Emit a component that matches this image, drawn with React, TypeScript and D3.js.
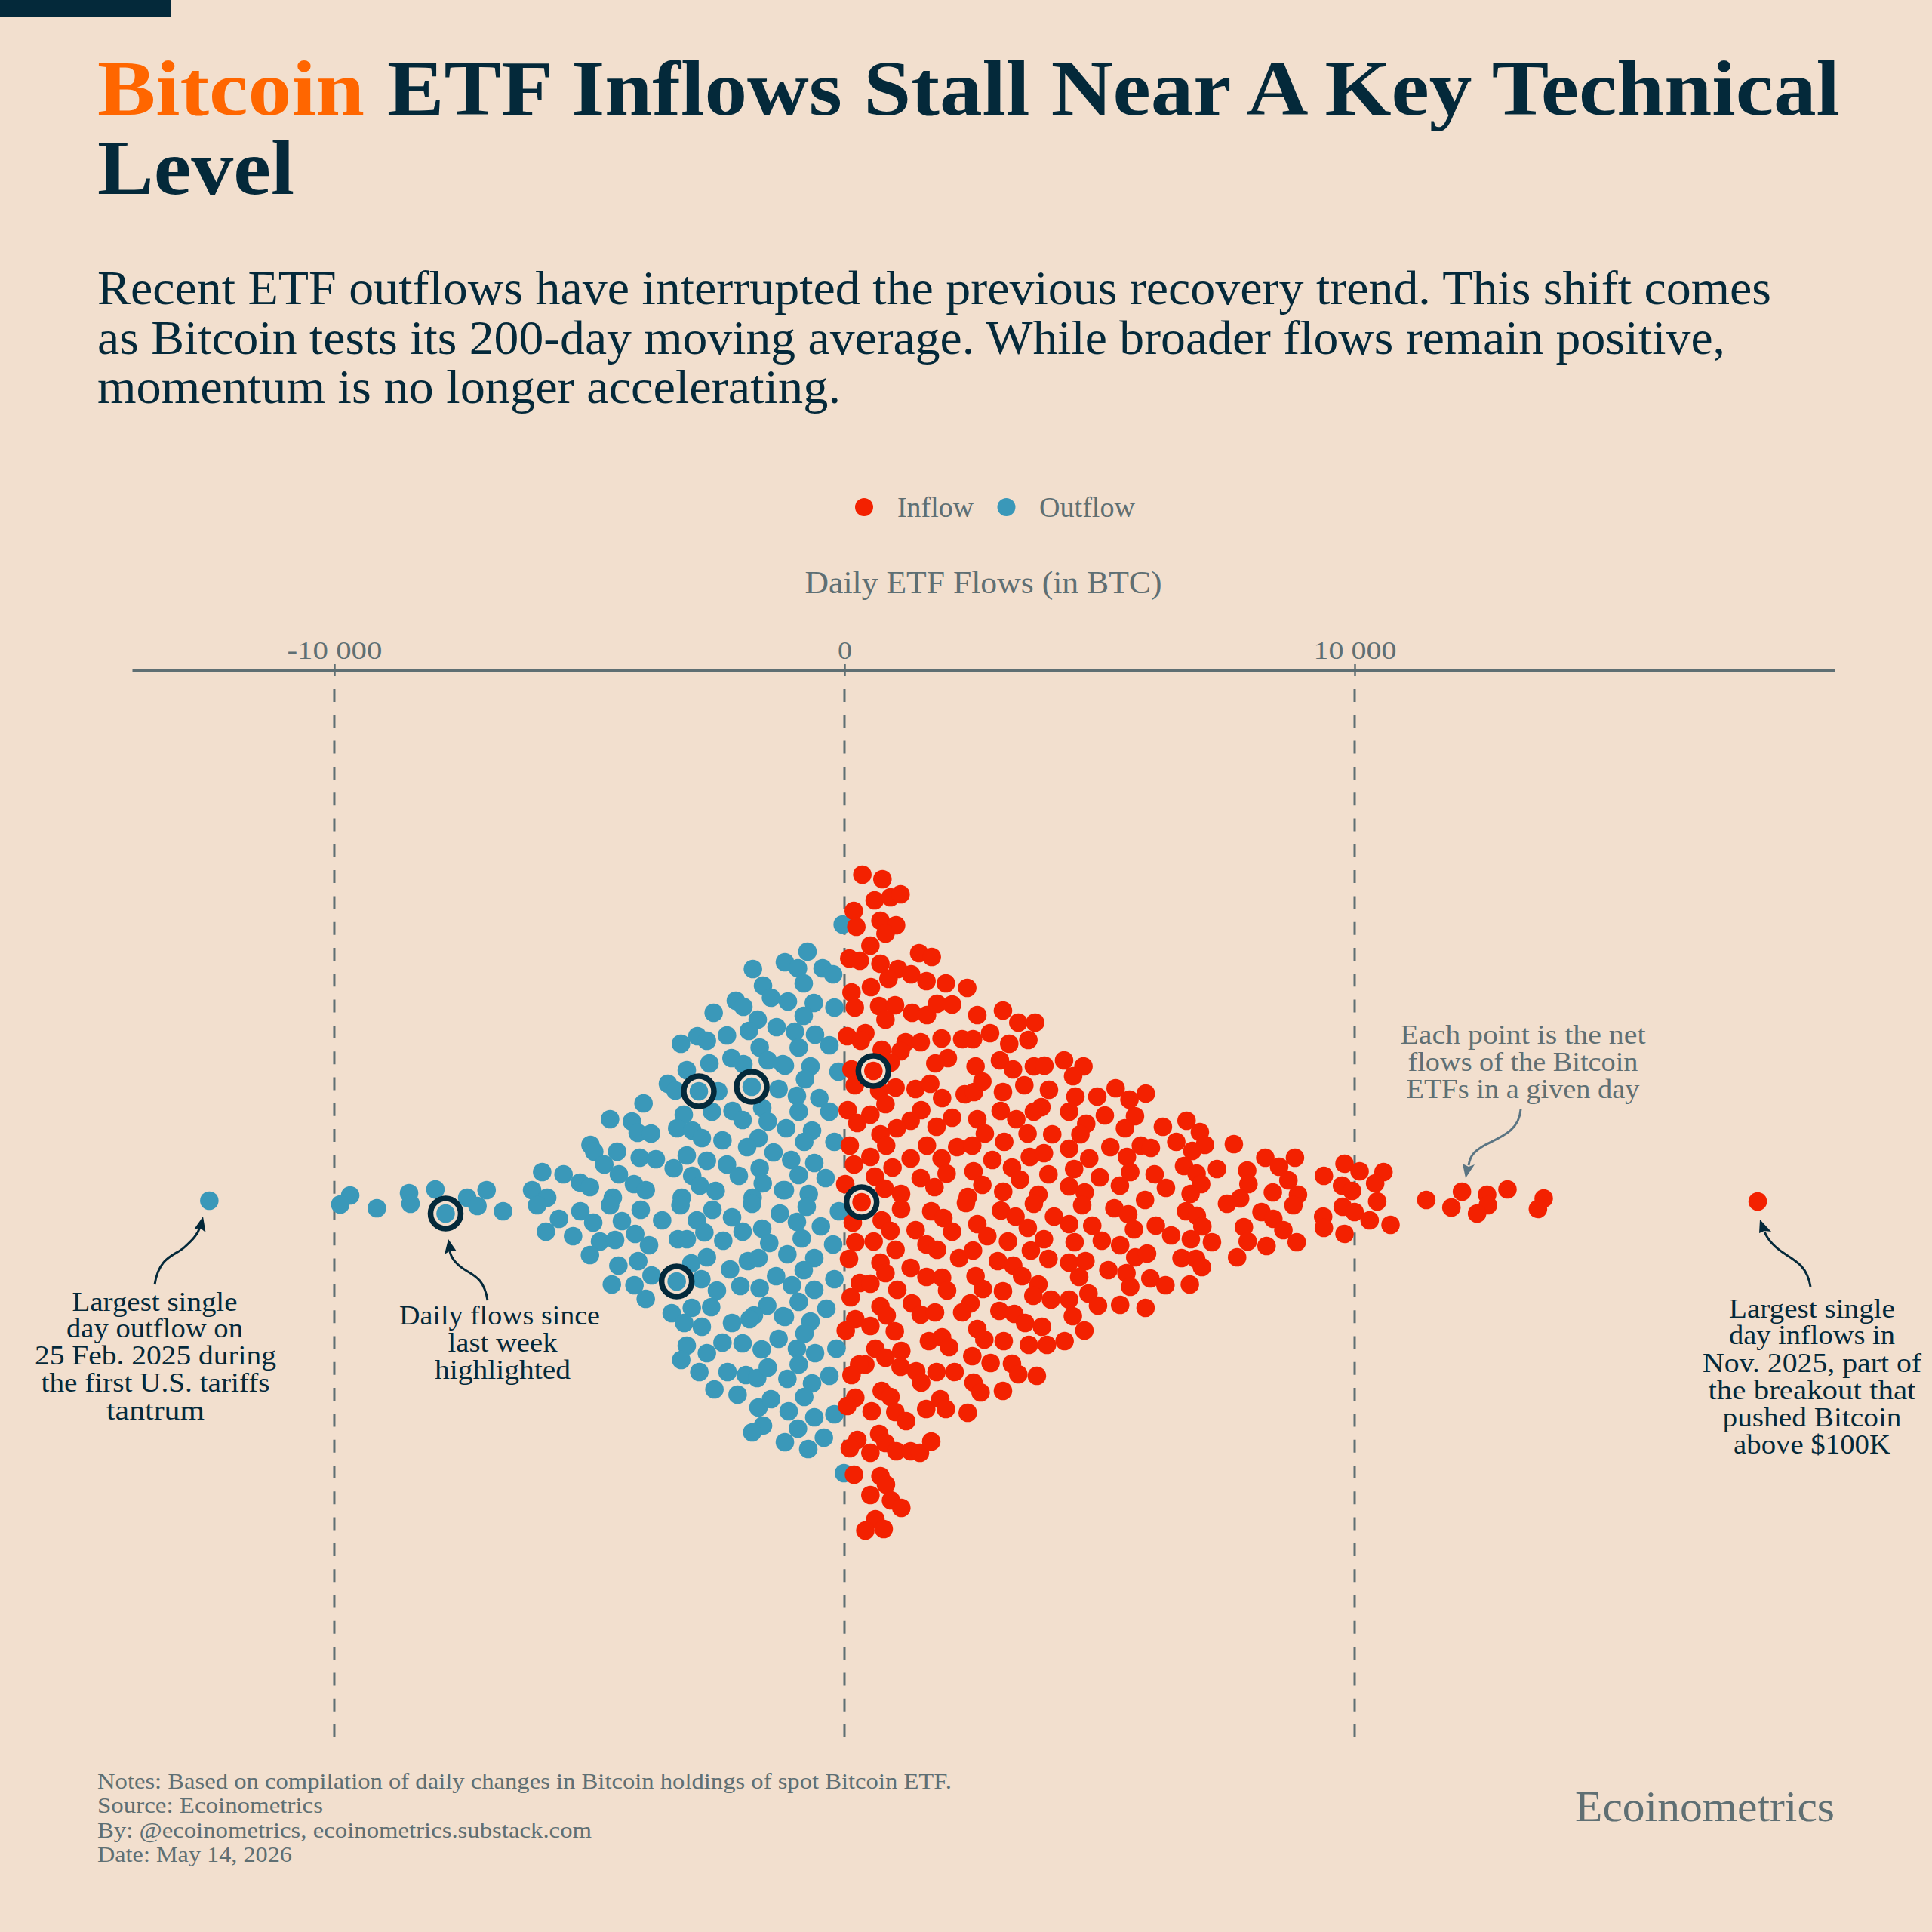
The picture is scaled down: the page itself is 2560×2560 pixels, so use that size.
import React, { useEffect, useRef } from 'react';
import * as d3 from 'd3';

// [net flow in BTC, vertical place in the swarm]
const inflowDays: [number, number][] = [
  [350,-433],[744,-427],[592,-399],[902,-403],[1099,-407],[182,-385],[232,-364],[705,-372],[1011,-366],[804,-355],
  [508,-339],[94,-322],[301,-319],[1464,-329],[1711,-324],[705,-315],[1050,-308],[863,-295],[1306,-301],[1607,-292],
  [1987,-289],[2406,-283],[518,-284],[138,-277],[202,-257],[680,-259],[991,-260],[804,-241],[1326,-250],[1617,-247],
  [1814,-262],[2110,-261],[2603,-247],[3106,-253],[3407,-237],[3737,-237],[54,-219],[409,-223],[320,-213],[730,-201],
  [1198,-211],[1494,-211],[1099,-199],[1903,-216],[2307,-215],[2519,-215],[2854,-223],[3229,-209],[3604,-214],[2026,-190],
  [1780,-183],[2569,-179],[3047,-187],[3303,-175],[3712,-179],[3919,-180],[138,-175],[567,-173],[902,-184],[202,-154],
  [1001,-151],[680,-147],[804,-129],[1395,-149],[1681,-156],[1913,-137],[2357,-142],[2539,-145],[2702,-159],[3106,-145],
  [3525,-154],[4008,-148],[64,-121],[508,-115],[251,-104],[1504,-121],[1297,-107],[1025,-97],[2110,-111],[1804,-99],
  [2603,-109],[2751,-90],[3061,-120],[3367,-109],[3860,-125],[3712,-119],[3589,-90],[4072,-89],[705,-89],[818,-74],
  [104,-74],[1617,-74],[2209,-72],[2505,-74],[3131,-79],
  [4304,-187],[4684,-179],[4481,-166],[4526,-139],[4955,-139],[5315,-150],[5586,-135],[5906,-143],[4403,-119],[5103,-114],
  [5694,-113],[4738,-103],[4624,-89],[5497,-97],[6241,-99],[6705,-107],[6966,-92],[6503,-79],[7065,-75],[6818,-67],
  [7632,-76],[4403,-70],[5211,-72],[5808,-74],[6005,-71],[4797,-57],[5536,-59],[4501,-43],[5004,-32],[5601,-39],
  [6079,-36],[6656,-47],[6902,-37],[7301,-43],[7893,-41],[8248,-58],[8830,-58],[8519,-46],[8701,-28],[9397,-34],
  [9801,-50],[4403,-20],[4708,-12],[5398,-21],[6301,-18],[6991,-23],[6784,-10],[7918,-23],[4659,5],[5891,-2],
  [7755,-4],[7498,3],[8396,-12],[5290,9],[5561,17],[6695,13],[6907,19],[7015,33],[4403,30],[4856,32],
  [5674,37],[6103,32],[6404,45],[4511,54],[5043,52],[5403,58],[6789,50],[7203,54],[7829,34],[7903,53],
  [8174,14],[8406,23],[8603,38],[8273,59],[7696,74],[5699,74],[5931,69],[6606,75],[6892,76],[7006,87],
  [4403,81],[4723,79],[4600,100],[5172,91],[5527,95],[5601,113],[5995,102],[6291,111],[6769,110],[4782,122],
  [4403,130],[4969,138],[5403,137],[5901,141],[4476,152],[4703,171],[4314,185],
  [8889,-9],[8800,5],[10097,-40],[10565,-39],[10402,-24],[9752,-21],[9949,-14],[10442,0],[9766,7],[9998,14],
  [10294,25],[10703,31],[9382,20],[9397,35],[9801,43],[8864,54],[11403,-2],[12103,-13],[11896,8],[12596,-9],
  [12611,5],[12399,16],[12995,-16],[13705,-4],[13592,10],[17900,0],
  [187,-49],[508,-59],[942,-45],[1297,-57],[1903,-57],[2002,-37],[2529,-40],[2702,-22],[2899,-55],[3283,-45],
  [3441,-29],[3998,-36],[3633,-59],[3909,-64],[597,-33],[789,-17],[15,-23],[335,1],[1109,-10],[1109,10],
  [1494,-31],[1765,-19],[3111,-13],[3801,-9],[3712,3],[2416,-6],[2381,2],[163,28],[730,25],[902,39],
  [1701,13],[1938,22],[2110,40],[1395,38],[2603,30],[2800,46],[3067,12],[3352,20],[3593,35],[4107,20],
  [212,54],[572,53],[1001,64],[89,76],[705,81],[804,95],[1607,57],[1815,64],[2248,75],[2519,65],
  [3205,53],[3653,65],[3909,50],[3998,76],[1297,88],[1607,100],[1913,101],[2011,118],[3007,79],[3308,85],
  [3481,99],[2569,99],[2712,116],[3801,110],[3702,125],[3106,119],[301,108],[508,109],[123,127],[1035,117],
  [705,139],[828,151],[1321,135],[1494,150],[1775,147],[2470,135],[2307,147],[3037,145],[3328,149],[3540,161],
  [3871,166],[4048,130],[212,156],[25,171],[508,165],[986,172],[1656,185],[1913,180],[2051,193],[2603,169],
  [2741,183],[3121,185],[3614,190],[3969,190],[606,195],[804,207],[1114,198],
  [2505,205],[2864,214],[3283,215],[3407,229],[3771,231],[1804,226],[2159,226],[409,216],[286,216],[138,230],
  [1099,219],[1406,225],[1504,240],[2529,240],[2668,253],[3106,251],[730,251],[902,259],[212,260],[54,271],
  [532,278],[996,279],[1208,291],[1602,275],[1878,262],[1987,275],[2416,280],[252,316],[104,327],[508,333],
  [680,308],[804,320],[1016,331],[1297,331],[1479,333],[1701,318],[187,362],[705,364],[813,375],[508,389],
  [912,396],[1114,406],[606,421],[769,434],[409,436],
];

const outflowDays: [number, number][] = [
  [-35,-367],[-725,-331],[-1168,-317],[-912,-309],[-429,-309],[-222,-301],[-799,-289],[-1109,-265],[-601,-263],[-197,-257],
  [-799,-246],[-971,-225],[-577,-221],[-296,-207],[-897,-204],[-1168,-180],[-666,-179],[-774,-162],[-118,-172],[-932,-140],
  [-493,-137],[-897,-119],[-296,-119],[-1144,-97],[-636,-94],[-789,-79],[-197,-79],
  [-1045,-55],[-592,-51],[-898,-35],[-370,-31],[-1168,-15],[-700,-10],[-740,7],[-108,13],[-932,27],
  [-463,33],[-838,49],[-222,57],[-1119,70],[-592,75],[-799,91],[-197,103],[-1030,111],[-592,117],[-897,133],
  [-355,142],[-1168,153],[-666,159],[-784,175],[-158,195],[-932,195],[-577,201],[-897,216],[-296,231],[-1119,235],
  [-636,241],[-789,259],[-197,282],[-1094,278],[-592,286],[-912,301],[-404,313],[-1168,319],[-710,328],[-10,360],
  [-1795,-308],[-1597,-286],[-1440,-270],[-2130,-266],[-1982,-258],[-2564,-250],[-1701,-241],[-1874,-226],[-1331,-231],[-2303,-220],
  [-3205,-209],[-2884,-219],[-2697,-213],[-1662,-204],[-1504,-187],[-2214,-190],[-1982,-182],[-2647,-183],[-3091,-174],[-1208,-182],
  [-3461,-156],[-3313,-147],[-2855,-146],[-2475,-146],[-1819,-152],[-1292,-149],[-3939,-130],[-3150,-115],[-2598,-119],[-2194,-120],
  [-1612,-124],[-1997,-108],[-1504,-106],[-4595,-109],[-4166,-106],[-4053,-91],[-3791,-90],[-3279,-97],[-2983,-94],[-2796,-84],
  [-2391,-81],[-1686,-84],[-1908,-72],[-4979,-75],[-4906,-66],[-4457,-66],[-4708,-49],[-4013,-58],[-3698,-56],[-3348,-44],
  [-3091,-61],[-2697,-54],[-2303,-49],[-1391,-65],[-1662,-44],[-2071,-34],[-4422,-36],[-5926,-39],[-5507,-36],[-5186,-25],
  [-4989,-19],[-6123,-15],[-5827,-5],[-6025,5],[-4127,-23],[-3895,-15],[-2985,-34],[-2835,-21],[-2524,-14],[-1602,-24],
  [-1203,-15],[-4541,-5],[-4595,5],[-3190,-5],[-3215,5],[-1800,-5],[-1810,3],[-3994,11],[-2588,11],[-5177,13],
  [-5596,23],[-4925,28],[-4363,26],[-3574,25],[-2894,25],[-2204,21],[-2746,41],[-1997,40],[-1612,36],[-1267,16],
  [-5852,40],[-5320,46],[-4102,43],[-4792,53],[-4496,51],[-3264,50],[-3091,50],[-2376,52],[-1475,55],
  [-3831,58],[-4989,71],[-4432,85],[-4043,79],[-3782,98],[-3289,106],[-4560,110],[-4117,111],[-3895,129],[-3003,82],
  [-2697,74],[-2805,103],[-2500,118],[-2243,90],[-1893,79],[-1686,75],[-2041,112],[-1662,115],[-1341,99],[-1514,138],
  [-1775,151],[-1859,156],[-1203,152],[-2613,140],[-2993,141],[-3387,148],[-3141,161],[-2796,166],[-2204,161],[-1292,182],
  [-2391,187],[-1997,188],[-3091,191],[-2697,201],[-3200,210],[-1622,196],[-2845,226],[-2292,226],[-1932,230],[-1711,234],
  [-1504,220],[-2549,249],[-2095,256],[-1686,273],[-1440,262],[-1597,297],[-1809,306],
  [-12450,-1],[-9689,-8],[-9883,4],[-9166,9],[-8535,-11],[-8506,3],[-8019,-16],[-7818,16],[-7395,-5],[-7194,6],
  [-7015,-15],[-6692,13],
];

// last week's days, circled on the chart
const highlightedDays: [number, number][] = [
  [567,-173],[335,1],[-2855,-146],[-1819,-152],[-3289,106],[-7818,16],
];

const flowTicks = [-10000, 0, 10000];

// text, width as measured in the picture
const titleLines = [
  { text: 'ETF Inflows Stall Near A Key Technical', x: 513, y: 152, w: 1925 },
  { text: 'Level', x: 129, y: 257, w: 261 },
];
const subtitleLines = [
  { text: 'Recent ETF outflows have interrupted the previous recovery trend. This shift comes', y: 403, w: 2218 },
  { text: 'as Bitcoin tests its 200-day moving average. While broader flows remain positive,', y: 469, w: 2157 },
  { text: 'momentum is no longer accelerating.', y: 534, w: 985 },
];
const footerLines = [
  { text: 'Notes: Based on compilation of daily changes in Bitcoin holdings of spot Bitcoin ETF.', y: 2370, w: 1132 },
  { text: 'Source: Ecoinometrics', y: 2402, w: 299 },
  { text: 'By: @ecoinometrics, ecoinometrics.substack.com', y: 2435, w: 655 },
  { text: 'Date: May 14, 2026', y: 2467, w: 258 },
];
const notes = [
  { color: '#04293a', lines: [
    ['Largest single', 205, 1737, 219], ['day outflow on', 205, 1772, 234], ['25 Feb. 2025 during', 206, 1808, 320],
    ['the first U.S. tariffs', 206, 1844, 303], ['tantrum', 206, 1881, 130],
  ] },
  { color: '#04293a', lines: [
    ['Daily flows since', 662, 1755, 266], ['last week', 666, 1791, 145], ['highlighted', 666, 1827, 180],
  ] },
  { color: '#5f6f73', lines: [
    ['Each point is the net', 2018, 1383, 325], ['flows of the Bitcoin', 2018, 1419, 305], ['ETFs in a given day', 2018, 1455, 309],
  ] },
  { color: '#04293a', lines: [
    ['Largest single', 2401, 1746, 220], ['day inflows in', 2401, 1781, 220], ['Nov. 2025, part of', 2401, 1818, 290],
    ['the breakout that', 2401, 1854, 275], ['pushed Bitcoin', 2401, 1890, 237], ['above $100K', 2401, 1926, 208],
  ] },
];
const arrows = [
  { color: '#04293a', d: 'M205 1702C211 1664 232 1664 244 1653C255 1643 262 1636 265 1626', head: '269,1612 272.5,1633 265,1627 257,1629' },
  { color: '#04293a', d: 'M646 1723C642 1698 632 1692 620 1685C606 1677 598 1668 596 1658', head: '594,1642 605,1658 597,1657 589,1662' },
  { color: '#5b7583', d: 'M2015 1470C2013 1498 1990 1506 1968 1517C1952 1526 1948 1532 1946 1544', head: '1942,1561 1938,1542 1946,1546 1954,1543' },
  { color: '#04293a', d: 'M2399 1705C2395 1680 2382 1672 2366 1662C2350 1652 2342 1642 2338 1632', head: '2332,1616 2347,1632 2338,1631 2331,1634' },
];

const BG = '#f2dfce';
const INK = '#04293a';
const GREY = '#5f6f73';
const RED = '#f32100';
const BLUE = '#3a98b9';
const FONT = '"Liberation Serif", serif';

const App: React.FC = () => {
  const svgRef = useRef<SVGSVGElement | null>(null);

  useEffect(() => {
    if (!svgRef.current) return;
    const svg = d3.select(svgRef.current);
    svg.selectAll('*').remove();
    svg.attr('font-family', FONT);

    const x = d3.scaleLinear().domain([-13964, 19408]).range([175, 2431]);
    const y = d3.scaleLinear().domain([-500, 500]).range([1092, 2092]);
    const r = 12.3;

    const label = (
      parent: d3.Selection<any, any, any, any>,
      text: string, lx: number, ly: number, w: number,
      size: number, color: string, anchor = 'start', weight = 'normal',
    ) => parent.append('text')
      .attr('x', lx).attr('y', ly)
      .attr('font-size', size).attr('font-weight', weight)
      .attr('fill', color).attr('text-anchor', anchor)
      .attr('textLength', w).attr('lengthAdjust', 'spacingAndGlyphs')
      .text(text);

    svg.append('rect').attr('width', 2560).attr('height', 2560).attr('fill', BG);
    svg.append('rect').attr('width', 226).attr('height', 22).attr('fill', INK);

    // Title block
    label(svg, 'Bitcoin', 129, 152, 354, 104, '#ff6600', 'start', 'bold');
    titleLines.forEach(l => label(svg, l.text, l.x, l.y, l.w, 104, INK, 'start', 'bold'));
    subtitleLines.forEach(l => label(svg, l.text, 129, l.y, l.w, 64, INK));

    // Legend
    svg.append('circle').attr('cx', 1145).attr('cy', 672).attr('r', 12).attr('fill', RED);
    svg.append('circle').attr('cx', 1333.5).attr('cy', 672).attr('r', 12).attr('fill', BLUE);
    label(svg, 'Inflow', 1189, 685, 101, 37, GREY);
    label(svg, 'Outflow', 1377, 685, 127, 37, GREY);
    label(svg, 'Daily ETF Flows (in BTC)', 1303, 786, 473, 42, GREY, 'middle');

    // Grid lines
    svg.append('g').selectAll('line').data(flowTicks).join('line')
      .attr('x1', d => x(d)).attr('x2', d => x(d))
      .attr('y1', 913).attr('y2', 2301)
      .attr('stroke', GREY).attr('stroke-width', 3)
      .attr('stroke-dasharray', '17 17.3');

    // Axis on top
    const axis = svg.append('g').attr('transform', 'translate(0,888)')
      .call(d3.axisTop(x).tickValues(flowTicks).tickSize(8).tickSizeOuter(0)
        .tickFormat(d => d3.format(',')(d as number).replace(',', ' ').replace('\u2212', '-')));
    axis.select('.domain').attr('stroke', GREY).attr('stroke-width', 4);
    axis.selectAll('.tick line').attr('y1', -8).attr('y2', 8).attr('stroke', GREY).attr('stroke-width', 2.5);
    axis.selectAll<SVGTextElement, number>('.tick text')
      .attr('y', -15).attr('fill', GREY)
      .attr('font-family', FONT).attr('font-size', 33)
      .attr('textLength', d => (d === 0 ? 19 : d < 0 ? 126 : 110))
      .attr('lengthAdjust', 'spacingAndGlyphs');

    // Swarm
    svg.append('g').selectAll('circle').data(outflowDays).join('circle')
      .attr('cx', d => x(d[0])).attr('cy', d => y(d[1])).attr('r', r).attr('fill', BLUE);
    svg.append('g').selectAll('circle').data(inflowDays).join('circle')
      .attr('cx', d => x(d[0])).attr('cy', d => y(d[1])).attr('r', r).attr('fill', RED);

    // Last week's days
    const rings = svg.append('g').selectAll('g').data(highlightedDays).join('g')
      .attr('transform', d => `translate(${x(d[0])},${y(d[1])})`);
    rings.append('circle').attr('r', 20).attr('fill', BG).attr('stroke', INK).attr('stroke-width', 7.5);
    rings.append('circle').attr('r', r).attr('fill', d => (d[0] < 0 ? BLUE : RED));

    // Annotations
    notes.forEach(n => n.lines.forEach(l =>
      label(svg, l[0] as string, l[1] as number, l[2] as number, l[3] as number, 36, n.color, 'middle')));
    arrows.forEach(a => {
      svg.append('path').attr('d', a.d).attr('fill', 'none').attr('stroke', a.color).attr('stroke-width', 3);
      svg.append('polygon').attr('points', a.head).attr('fill', a.color);
    });

    // Footer
    footerLines.forEach(l => label(svg, l.text, 129, l.y, l.w, 30, GREY));
    label(svg, 'Ecoinometrics', 2431, 2413, 344, 56, GREY, 'end');
  }, []);

  return (
    <svg ref={svgRef} width={2560} height={2560} style={{ position: 'absolute', left: 0, top: 0 }} />
  );
};

export default App;
